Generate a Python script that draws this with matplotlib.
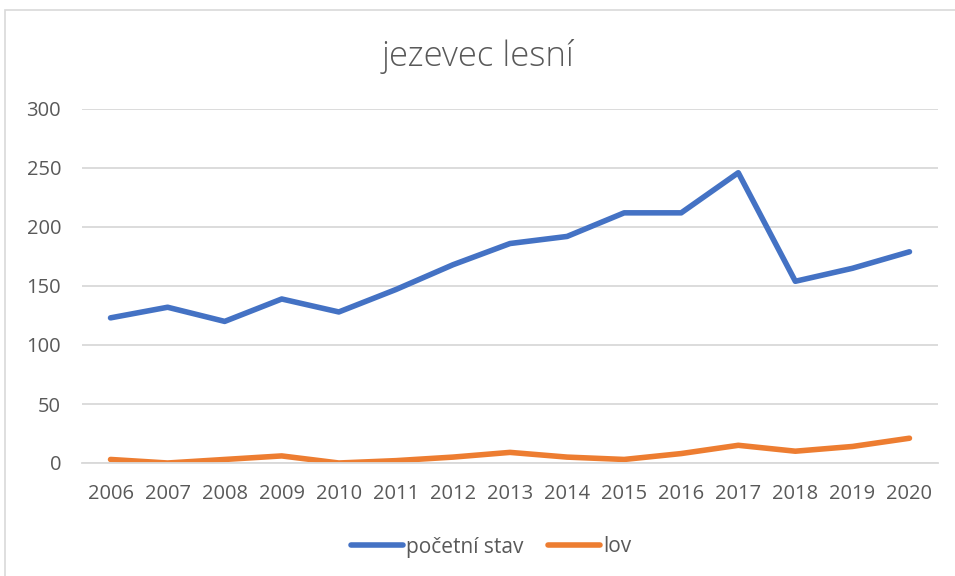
import matplotlib
matplotlib.use("Agg")
import matplotlib.pyplot as plt
from matplotlib.patches import Rectangle

years = [str(y) for y in range(2006, 2021)]
pocetni_stav = [123, 132, 120, 139, 128, 147, 168, 186, 192, 212, 212, 246, 154, 165, 179]
lov = [3, 0, 3, 6, 0, 2, 5, 9, 5, 3, 8, 15, 10, 14, 21]

BLUE = "#4472c4"
ORANGE = "#ed7d31"
TXT = "#595959"
GRID = "#d9d9d9"

plt.rcParams["font.family"] = ["Open Sans", "DejaVu Sans"]

fig = plt.figure(figsize=(9.55, 5.76), dpi=100)
W, H = 955, 576
ax = fig.add_axes([82 / W, 1 - 463 / H, (938 - 82) / W, (463 - 109) / H])

# chart border
fig.patches.append(Rectangle((5 / W, -0.01), 1.0, 1 - 10 / H + 0.01, transform=fig.transFigure,
                             fill=False, ec="#d9d9d9", lw=1.2))

x = range(len(years))
ax.plot(x, pocetni_stav, color=BLUE, lw=4, solid_capstyle="round", solid_joinstyle="round",
        label="početní stav")
ax.plot(x, lov, color=ORANGE, lw=4, solid_capstyle="round", solid_joinstyle="round", label="lov")

ax.set_xlim(-0.5, len(years) - 0.5)
ax.set_ylim(0, 300)
ax.set_yticks(range(0, 301, 50))
ax.set_xticks(list(x))
ax.set_xticklabels(years)
ax.grid(axis="y", color=GRID, lw=1.3)
ax.set_axisbelow(True)
for s in ["top", "right", "left"]:
    ax.spines[s].set_visible(False)
ax.spines["bottom"].set_color(GRID)
ax.spines["bottom"].set_linewidth(1.3)
ax.tick_params(length=0, colors=TXT, labelsize=14.5)
ax.tick_params(axis="x", pad=15)
ax.tick_params(axis="y", pad=15)

fig.text(0.5, 1 - 57 / H, "jezevec lesní", ha="center", va="center", fontsize=25,
         color=TXT, fontweight="light")

fig.legend(loc="center", bbox_to_anchor=(491 / W, 1 - 547 / H), ncol=2, frameon=False,
           fontsize=15, labelcolor=TXT, handlelength=2.5, handletextpad=0.15,
           columnspacing=1.2)

fig.savefig("out.png", dpi=100)
